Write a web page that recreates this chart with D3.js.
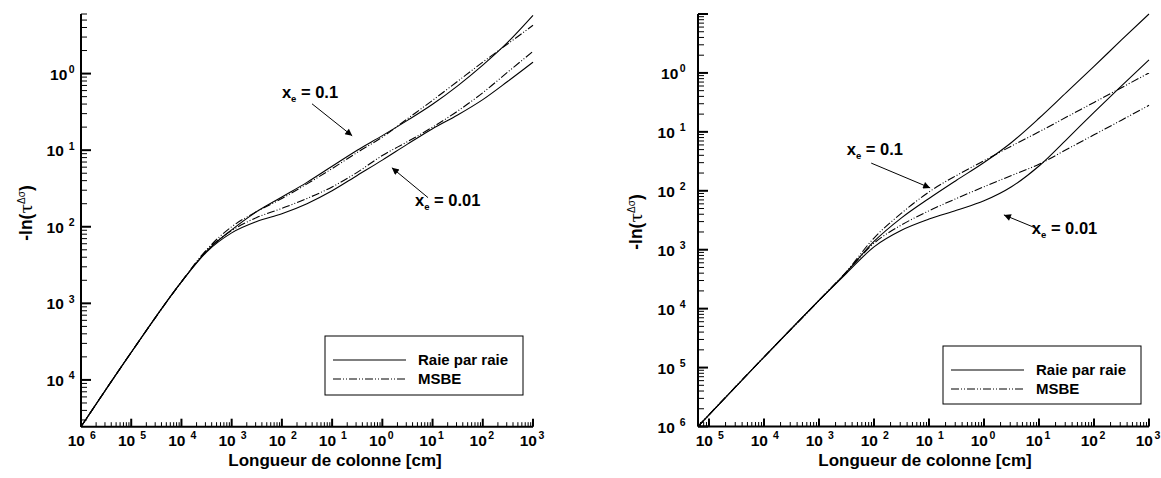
<!DOCTYPE html>
<html><head><meta charset="utf-8">
<script src="https://cdn.jsdelivr.net/npm/d3@7"></script>
<style>
body{margin:0;background:#fff}
svg{display:block}
text{font-family:"Liberation Sans",Arial,Helvetica,sans-serif;font-weight:bold;fill:#000}
</style></head><body>
<svg id="chart" width="1161" height="478"></svg>
<script>
// ---------- DATA ----------
// Left panel: column length [cm]
const leftLength = [1e-6,1e-5,1e-4,3.16e-4,1e-3,3.16e-3,1e-2,3.16e-2,0.1,0.316,1,3.16,10,31.6,100,316,1000];
const leftRpr01  = [2.45e-5,2.29e-4,1.91e-3,4.79e-3,9.12e-3,1.58e-2,2.45e-2,3.80e-2,6.17e-2,0.100,0.155,0.245,0.398,0.692,1.29,2.57,5.75];
const leftMsbe01 = [2.45e-5,2.29e-4,1.91e-3,5.01e-3,1.00e-2,1.58e-2,2.34e-2,3.63e-2,5.75e-2,9.33e-2,0.148,0.257,0.447,0.794,1.41,2.45,4.27];
const leftRpr001 = [2.45e-5,2.29e-4,1.91e-3,4.68e-3,8.32e-3,1.17e-2,1.48e-2,2.00e-2,2.95e-2,4.68e-2,7.41e-2,0.120,0.191,0.288,0.457,0.794,1.41];
const leftMsbe001= [2.45e-5,2.29e-4,1.91e-3,4.90e-3,8.91e-3,1.32e-2,1.74e-2,2.34e-2,3.31e-2,5.13e-2,8.51e-2,0.129,0.200,0.324,0.562,1.05,1.95];

// Right panel
const rightLength = [6.31e-6,1e-5,1e-4,1e-3,3.16e-3,1e-2,3.16e-2,0.1,0.316,1,3.16,10,31.6,100,316,1000];
const rightRpr01  = [1e-6,1.58e-6,1.51e-5,1.38e-4,4.17e-4,1.38e-3,3.47e-3,7.41e-3,1.51e-2,3.02e-2,6.61e-2,0.170,0.468,1.29,3.63,10];
const rightMsbe01 = [1e-6,1.58e-6,1.51e-5,1.38e-4,4.27e-4,1.58e-3,4.17e-3,9.55e-3,1.82e-2,3.24e-2,5.75e-2,0.100,0.178,0.316,0.562,1.0];
const rightRpr001 = [1e-6,1.58e-6,1.51e-5,1.38e-4,3.98e-4,1.12e-3,2.14e-3,3.31e-3,4.68e-3,6.76e-3,1.17e-2,2.63e-2,7.41e-2,0.214,0.603,1.66];
const rightMsbe001= [1e-6,1.58e-6,1.51e-5,1.38e-4,4.17e-4,1.29e-3,2.63e-3,4.57e-3,7.41e-3,1.17e-2,1.82e-2,2.82e-2,5.01e-2,8.91e-2,0.158,0.282];

// Axis domains and tick labels (exponents as displayed)
const leftXDomain = [1e-6,1e3], leftYDomain = [2.45e-5,6];
const rightXDomain = [6.31e-6,1e3], rightYDomain = [1e-6,10];
const leftXTickExp = [-6,-5,-4,-3,-2,-1,0,1,2,3];
const leftYTickExp = [-4,-3,-2,-1,0];
const rightXTickExp = [-5,-4,-3,-2,-1,0,1,2,3];
const rightYTickExp = [-6,-5,-4,-3,-2,-1,0];

const seriesNames = ["Raie par raie","MSBE"];
const xTitle = "Longueur de colonne [cm]";

// annotations (data coordinates)
const leftAnn = [
  {label:"0.1",  tx:1e-2,  ty:0.482, ax0:3.98e-2, ay0:0.403, ax1:0.251, ay1:0.154},
  {label:"0.01", tx:4.47,  ty:1.88e-2, ax0:8.13, ay0:2.40e-2, ax1:1.55, ay1:5.89e-2}
];
const rightAnn = [
  {label:"0.1",  tx:3.2e-3, ty:4.07e-2, ax0:8.9e-3, ay0:2.95e-2, ax1:0.105, ay1:1.12e-2},
  {label:"0.01", tx:7.41,    ty:1.86e-3, ax0:8.1,  ay0:2.4e-3, ax1:2.3, ay1:3.9e-3}
];

// ---------- DRAW ----------
const svg = d3.select("#chart");
const dashDot = "8,2,1,2,1,2";

const defs = svg.append("defs");
defs.append("marker").attr("id","ah").attr("viewBox","0 0 10 10").attr("refX",10).attr("refY",5)
  .attr("markerWidth",12).attr("markerHeight",7).attr("markerUnits","userSpaceOnUse").attr("orient","auto")
  .append("path").attr("d","M0,0 L10,5 L0,10 z").attr("fill","#000");

function panel(cfg){
  const g = svg.append("g");
  const x = d3.scaleLog().domain(cfg.xDomain).range(cfg.xRange);
  const y = d3.scaleLog().domain(cfg.yDomain).range(cfg.yRange);
  const [x0,x1] = cfg.xRange, [y0,y1] = cfg.yRange;

  // curves
  const line = d3.line().x(d=>x(d[0])).y(d=>y(d[1])).curve(d3.curveMonotoneX);
  cfg.curves.forEach(c=>{
    g.append("path").datum(cfg.len.map((L,i)=>[L,c.v[i]]))
      .attr("d",line).attr("fill","none").attr("stroke","#000").attr("stroke-width",1.1)
      .attr("stroke-dasharray",c.dash?dashDot:null);
  });

  // minor + major ticks
  x.ticks().forEach(t=>{
    const e = Math.log10(t), major = Math.abs(e-Math.round(e))<1e-9;
    g.append("line").attr("x1",x(t)).attr("x2",x(t)).attr("y1",y0).attr("y2",y0-(major?8:4.5))
      .attr("stroke","#000").attr("stroke-width",major?2:1);
  });
  y.ticks().forEach(t=>{
    const e = Math.log10(t), major = Math.abs(e-Math.round(e))<1e-9;
    g.append("line").attr("y1",y(t)).attr("y2",y(t)).attr("x1",x0).attr("x2",x0+(major?10:6))
      .attr("stroke","#000").attr("stroke-width",major?2:1);
  });
  // axis lines
  g.append("line").attr("x1",x0).attr("x2",x1).attr("y1",y0).attr("y2",y0).attr("stroke","#000").attr("stroke-width",2);
  g.append("line").attr("x1",x0).attr("x2",x0).attr("y1",y0).attr("y2",y1).attr("stroke","#000").attr("stroke-width",2);

  // tick labels: "10" and exponent as two separate texts
  function powLabel(px, py, e, anchorEnd){
    const gap = e<0?5:1.5, supW = 6.2;
    const baseEnd = anchorEnd ? px - gap - supW : px + 4;
    g.append("text").attr("x",baseEnd).attr("y",py).attr("font-size",15.5).attr("text-anchor","end").text("10");
    g.append("text").attr("x",baseEnd+gap).attr("y",py-6.5).attr("font-size",10.5).attr("text-anchor","start").text(Math.abs(e));
  }
  cfg.xTickExp.forEach(e=> powLabel(x(Math.pow(10,e)), 445.5, e, false));
  cfg.yTickExp.forEach(e=> powLabel(x0-cfg.yLabGap, y(Math.pow(10,e))+6, e, true));

  // axis titles
  g.append("text").attr("x",cfg.xTitleX).attr("y",466).attr("font-size",17).attr("text-anchor","middle").text(xTitle);
  const yt2 = g.append("text").attr("transform",`translate(${cfg.yTitleX},${cfg.yTitleY}) rotate(-90)`)
    .attr("font-size",17.5).attr("text-anchor","middle");
  yt2.append("tspan").text("-ln(");
  yt2.append("tspan").attr("font-weight","normal").attr("font-family","DejaVu Serif, serif").text("τ");
  yt2.append("tspan").attr("dy",-7).attr("font-size",10).attr("font-weight","normal").text("Δσ");
  yt2.append("tspan").attr("dy",7).text(")");

  // annotations
  cfg.ann.forEach(a=>{
    const t = g.append("text").attr("x",x(a.tx)).attr("y",y(a.ty)).attr("font-size",16.5);
    t.append("tspan").text("x");
    t.append("tspan").attr("dy",4).attr("font-size",9.5).text("e");
    t.append("tspan").attr("dy",-4).text(" = "+a.label);
    g.append("line").attr("x1",x(a.ax0)).attr("y1",y(a.ay0)).attr("x2",x(a.ax1)).attr("y2",y(a.ay1))
      .attr("stroke","#000").attr("stroke-width",1).attr("marker-end","url(#ah)");
  });

  // legend
  const L = cfg.legend;
  g.append("rect").attr("x",L.x).attr("y",L.y).attr("width",L.w).attr("height",L.h)
    .attr("fill","#fff").attr("stroke","#000").attr("stroke-width",1);
  seriesNames.forEach((n,i)=>{
    const yy = L.y + 24 + i*19;
    g.append("line").attr("x1",L.x+8).attr("x2",L.x+81).attr("y1",yy).attr("y2",yy)
      .attr("stroke","#000").attr("stroke-width",1.1).attr("stroke-dasharray",i?dashDot:null);
    g.append("text").attr("x",L.x+93).attr("y",yy+5).attr("font-size",15).text(n);
  });
}

panel({
  xDomain:leftXDomain, yDomain:leftYDomain, xRange:[81,533], yRange:[426.7,14],
  len:leftLength,
  curves:[{v:leftRpr01},{v:leftMsbe01,dash:true},{v:leftRpr001},{v:leftMsbe001,dash:true}],
  xTickExp:leftXTickExp, yTickExp:leftYTickExp, yLabGap:6,
  xTitleX:335, yTitleX:32, yTitleY:213, ann:leftAnn,
  legend:{x:325,y:336,w:198,h:59}
});
panel({
  xDomain:rightXDomain, yDomain:rightYDomain, xRange:[698,1149], yRange:[426.5,14],
  len:rightLength,
  curves:[{v:rightRpr01},{v:rightMsbe01,dash:true},{v:rightRpr001},{v:rightMsbe001,dash:true}],
  xTickExp:rightXTickExp, yTickExp:rightYTickExp, yLabGap:12,
  xTitleX:925, yTitleX:642, yTitleY:222, ann:rightAnn,
  legend:{x:943,y:346,w:198,h:58}
});
</script></body></html>
